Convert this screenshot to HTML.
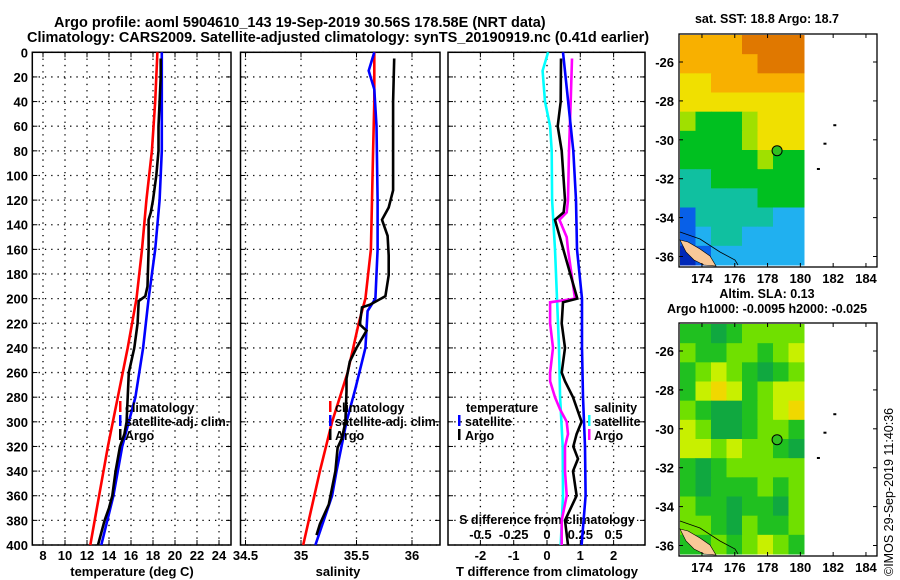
<!DOCTYPE html>
<html><head><meta charset="utf-8">
<style>
html,body{margin:0;padding:0;background:#fff;}
svg{display:block;font-family:"Liberation Sans",Arial,sans-serif;font-weight:bold;}
</style></head>
<body>
<svg id="chart" width="900" height="580" viewBox="0 0 900 580" xmlns="http://www.w3.org/2000/svg">
<rect width="900" height="580" fill="#fff"/>
<text x="54" y="27" font-size="14.5">Argo profile: aoml 5904610_143 19-Sep-2019 30.56S 178.58E (NRT data)</text>
<text x="27" y="42" font-size="14.5">Climatology: CARS2009. Satellite-adjusted climatology: synTS_20190919.nc (0.41d earlier)</text>
<g id="layer"></g>
</svg>
<script>
// ---- Temperature panel data ----
const tClimDepth = [0,40,80,120,160,200,240,280,320,360,400];
const tClim = [18.4,18.2,17.9,17.4,17.0,16.5,15.7,14.8,13.9,13.1,12.3];
const tSatDepth = [0,40,80,120,160,200,240,280,320,360,400];
const tSat = [18.8,18.8,18.8,18.6,18.2,17.6,17.1,16.4,15.2,14.4,13.3];
const tArgoDepth = [5,20,40,60,80,100,120,130,136,140,160,190,198,202,220,240,260,280,300,310,320,340,360,370,380,400];
const tArgo = [18.7,18.7,18.6,18.5,18.5,18.3,18.0,17.8,17.6,17.6,17.6,17.5,17.3,16.7,16.6,16.3,15.8,15.7,15.6,15.4,15.0,14.6,14.3,14.0,13.6,13.0];
const tTicks = [8,10,12,14,16,18,20,22,24];
// ---- Salinity panel data ----
const sClimDepth = [0,40,80,120,160,200,220,240,260,300,340,400];
const sClim = [35.66,35.66,35.65,35.64,35.63,35.58,35.52,35.47,35.42,35.28,35.17,35.02];
const sSatDepth = [0,15,30,60,120,160,200,210,240,273,300,340,360,400];
const sSat = [35.66,35.61,35.66,35.68,35.69,35.69,35.67,35.6,35.58,35.49,35.41,35.32,35.28,35.13];
const sArgoDepth = [5,40,80,112,126,136,149,165,181,198,205,207,221,226,240,251,265,275,300,313,321,340,367,383,392];
const sArgo = [35.84,35.83,35.83,35.83,35.79,35.73,35.78,35.79,35.79,35.76,35.62,35.55,35.53,35.59,35.50,35.44,35.41,35.41,35.40,35.37,35.33,35.31,35.25,35.17,35.14];
const sTicks = [34.5,35,35.5,36];
// ---- Difference panel data ----
const dTSatDepth = [0,80,120,160,200,240,280,320,360,400];
const dTSat = [0.48,0.79,0.87,0.9,1.05,1.05,1.08,1.14,1.16,1.04];
const dTArgoDepth = [5,40,60,80,120,130,136,160,200,203,220,240,260,267,280,300,310,320,330,340,360,380,400];
const dTArgo = [0.42,0.41,0.32,0.44,0.54,0.5,0.24,0.49,0.91,0.48,0.44,0.54,0.44,0.54,0.78,1.04,0.89,0.79,0.93,0.78,0.89,0.54,0.63];
const dSSatDepth = [0,15,40,60,80,120,160,200,240,280,320,360,400];
const dSSat = [0.008,-0.033,-0.015,0.023,0.035,0.038,0.06,0.075,0.09,0.098,0.118,0.12,0.103];
const dSArgoDepth = [5,40,80,120,130,136,150,160,200,203,220,240,260,267,280,290,300,310,320,340,360,380,400];
const dSArgo = [0.188,0.178,0.165,0.158,0.148,0.093,0.148,0.158,0.21,0.023,0.023,0.045,0.023,0.023,0.06,0.098,0.148,0.158,0.135,0.135,0.148,0.11,0.11];
const dTTicks = [-2,-1,0,1,2];
const dSTicks = [-0.5,-0.25,0,0.25,0.5];
const depthTicks = [0,20,40,60,80,100,120,140,160,180,200,220,240,260,280,300,320,340,360,380,400];
// ---- Map data ----
const sstGrid = [
 [7,7,7,7,8,8,8,8],[7,7,7,7,7,8,8,8],[6,6,7,7,7,7,7,7],[6,6,6,6,6,6,6,6],
 [5,4,4,4,5,6,6,6],[4,4,4,4,5,6,6,6],[4,4,4,4,4,5,4,4],[3,3,4,4,4,4,4,4],
 [3,3,3,3,3,4,4,4],[1,3,3,3,3,3,2,2],[1,2,3,3,2,2,2,2],[0,1,2,2,2,2,2,2]];
const slaGrid = [
 [2,2,1,2,3,3,3,3],[3,2,2,3,3,2,3,4],[2,3,4,3,2,1,2,3],[2,4,5,4,2,3,4,4],
 [3,2,1,1,2,3,4,5],[4,3,1,1,2,3,3,2],[4,4,3,4,3,3,2,1],[2,1,2,3,3,3,3,3],
 [2,1,2,2,2,3,2,3],[3,2,2,1,2,2,1,3],[3,3,2,1,3,2,2,3],[2,2,3,2,3,4,3,2]];
const lonTicks = [174,176,178,180,182,184];
const latTicks = [-26,-28,-30,-32,-34,-36];
const argoLon = 178.58, argoLat = -30.56;

const NS='http://www.w3.org/2000/svg';
const layer=document.getElementById('layer');
function mk(tag,attrs,parent){const e=document.createElementNS(NS,tag);for(const k in attrs)e.setAttribute(k,attrs[k]);(parent||layer).appendChild(e);return e;}
const top0=52.3, bot0=545;
const yD=d=>top0+d*(bot0-top0)/400;
const xT=v=>43+(v-8)*11;
const xS=v=>301+(v-35)*111;
const xDT=v=>547+v*33.3;
const xDS=v=>547+v*4*33.3;

function panel(name,x0,x1,vticks,xf){
  const g=mk('g',{});
  
  
  vticks.forEach(v=>{const x=xf(v);mk('line',{x1:x,x2:x,y1:top0,y2:bot0,stroke:'#000','stroke-width':1.3,'stroke-dasharray':'1.3 5'},g);
    mk('line',{x1:x,x2:x,y1:bot0,y2:bot0-5,stroke:'#000','stroke-width':1},g);mk('line',{x1:x,x2:x,y1:top0,y2:top0+5,stroke:'#000','stroke-width':1},g);});
  depthTicks.forEach(d=>{const y=yD(d);mk('line',{x1:x0,x2:x1,y1:y,y2:y,stroke:'#000','stroke-width':1.3,'stroke-dasharray':'1.3 5'},g);
    mk('line',{x1:x0,x2:x0+5,y1:y,y2:y,stroke:'#000'},g);mk('line',{x1:x1-5,x2:x1,y1:y,y2:y,stroke:'#000'},g);});
  mk('rect',{x:x0,y:top0,width:x1-x0,height:bot0-top0,fill:'none',stroke:'#000','stroke-width':1.5},g);
  return g;
}
function line(name,depths,vals,xf,color,g){
  const pts=depths.map((d,i)=>xf(vals[i]).toFixed(1)+','+yD(d).toFixed(1)).join(' ');
  const p=mk('polyline',{points:pts,fill:'none',stroke:color,'stroke-width':2.6},g);
  
  
}
function txt(name,x,y,s,size,anchor,g,extra){
  const t=mk('text',Object.assign({x:x,y:y,'font-size':size||13,'text-anchor':anchor||'start'},extra||{}),g);
  t.textContent=s;
  
  
  return t;
}
// Panel 1
const p1=panel('temperature-panel',32.3,231,tTicks,xT);
depthTicks.forEach(d=>txt('depth-tick-label',28,yD(d)+5,String(d),13,'end',p1));
tTicks.forEach(v=>txt('temp-tick-label',xT(v),560,String(v),13,'middle',p1));
txt('x-axis-title-temperature',132,576,'temperature (deg C)',13,'middle',p1);
line('temp-climatology-line',tClimDepth,tClim,xT,'#f00',p1);
line('temp-satellite-line',tSatDepth,tSat,xT,'#00f',p1);
line('temp-argo-line',tArgoDepth,tArgo,xT,'#000',p1);
// Panel 2
const p2=panel('salinity-panel',240.5,440,sTicks,xS);
sTicks.forEach(v=>txt('sal-tick-label',xS(v),560,String(v),13,'middle',p2));
txt('x-axis-title-salinity',338,576,'salinity',13,'middle',p2);
line('sal-climatology-line',sClimDepth,sClim,xS,'#f00',p2);
line('sal-satellite-line',sSatDepth,sSat,xS,'#00f',p2);
line('sal-argo-line',sArgoDepth,sArgo,xS,'#000',p2);
// legends panel 1 & 2
[[p1,119,125],[p2,329,335]].forEach(([g,mx,tx])=>{
  [['climatology','#f00'],['satellite-adj. clim.','#00f'],['Argo','#000']].forEach((e,i)=>{
    const y=412+i*14;
    mk('rect',{x:mx,y:y-11,width:2.5,height:11,fill:e[1]},g);
    txt('legend-entry',tx,y,e[0],12.5,'start',g);
  });
});
// Panel 3
const p3=panel('difference-panel',448,645,dTTicks,xDT);
dTTicks.forEach(v=>txt('dT-tick-label',xDT(v),560,String(v),13,'middle',p3));
dSTicks.forEach(v=>txt('dS-tick-label',xDS(v),539,String(v),13,'middle',p3));
txt('dS-axis-title',547,524,'S difference from climatology',12.5,'middle',p3);
txt('x-axis-title-diff',547,576,'T difference from climatology',13,'middle',p3);
line('dS-satellite-line',dSSatDepth,dSSat,xDS,'#0ff',p3);
line('dS-argo-line',dSArgoDepth,dSArgo,xDS,'#f0f',p3);
line('dT-argo-line',dTArgoDepth,dTArgo,xDT,'#000',p3);
line('dT-satellite-line',dTSatDepth,dTSat,xDT,'#00f',p3);
txt('legend-temperature-header',466,412,'temperature',12.5,'start',p3);
txt('legend-salinity-header',594,412,'salinity',12.5,'start',p3);
[['satellite','#00f',458,465],['Argo','#000',458,465],['satellite','#0ff',588,594],['Argo','#f0f',588,594]].forEach((e,i)=>{
  const y=426+(i%2)*14;
  mk('rect',{x:e[2],y:y-11,width:2.5,height:11,fill:e[1]},p3);
  txt('legend-entry',e[3],y,e[0],12.5,'start',p3);
});
// Maps
const sstColors=['#0028b8','#0860e8','#20b0f0','#10c0a0','#00c020','#a0e000','#f0e000','#f8b000','#e07800'];
const slaColors=['#10a040','#10a840','#20c020','#70e000','#c8f000','#f0d800'];
function map(name,fy,grid,colors,title1,title2){
  const g=mk('g',{});
  
  
  const fx0=679,fx1=877,fy1=fy+233;
  const latTop=-24.56, degY=19.45, lonL=172.6, degX=16.4;
  const X=l=>fx0+(l-lonL)*degX, Y=la=>fy+(latTop-la)*degY;
  mk('rect',{x:fx0,y:fy,width:fx1-fx0,height:fy1-fy,fill:'#fff'},g);
  const cx0=fx0+1,cx1=804,cy0=fy+1,cy1=fy1-2;
  const cw=(cx1-cx0)/grid[0].length, ch=(cy1-cy0)/grid.length;
  grid.forEach((row,r)=>row.forEach((v,c)=>{
    const cell=mk('rect',{x:cx0+c*cw,y:cy0+r*ch,width:cw+0.5,height:ch+0.5,fill:colors[v]},g);
    
    
  }));
  const land=mk('path',{d:`M${cx0} ${fy+206} L${cx0+8} ${fy+208} L${cx0+20} ${fy+215} L${cx0+30} ${fy+222} L${cx0+36} ${fy+232} L${cx0+24} ${cy1} L${cx0+14} ${fy+226} L${cx0+6} ${fy+218} Z`,fill:'#f8c898',stroke:'#000','stroke-width':0.6},g);
  
  
  mk('path',{d:`M${cx0} ${fy+198} L${cx0+20} ${fy+205} L${cx0+40} ${fy+218} L${cx0+55} ${fy+226} L${cx0+58} ${cy1}`,fill:'none',stroke:'#000','stroke-width':0.8},g);
  [[182.1,-29.25],[181.5,-30.2],[181.1,-31.5]].forEach(p=>mk('rect',{x:X(p[0])-1.5,y:Y(p[1])-1,width:3,height:2,fill:'#000'},g));
  const pt=mk('circle',{cx:X(argoLon),cy:Y(argoLat),r:5,fill:'#30c020',stroke:'#000','stroke-width':1},g);
  
  
  mk('rect',{x:fx0,y:fy,width:fx1-fx0,height:fy1-fy,fill:'none',stroke:'#000','stroke-width':1.3},g);
  lonTicks.forEach(l=>{const x=X(l);mk('line',{x1:x,x2:x,y1:fy1,y2:fy1-4,stroke:'#000'},g);mk('line',{x1:x,x2:x,y1:fy,y2:fy+4,stroke:'#000'},g);
    txt('map-lon-label',x,fy1+16,String(l),13,'middle',g);});
  latTicks.forEach(la=>{const y=Y(la);mk('line',{x1:fx0,x2:fx0+4,y1:y,y2:y,stroke:'#000'},g);mk('line',{x1:fx1-4,x2:fx1,y1:y,y2:y,stroke:'#000'},g);
    txt('map-lat-label',674,y+5,String(la),13,'end',g);});
  txt('map-title',767,fy-(title2?25:11),title1,12.5,'middle',g);
  if(title2) txt('map-subtitle',767,fy-10,title2,12.5,'middle',g);
}
map('sst-map',34,sstGrid,sstColors,'sat. SST: 18.8 Argo: 18.7');
map('sla-map',323,slaGrid,slaColors,'Altim. SLA: 0.13','Argo h1000: -0.0095 h2000: -0.025');
txt('imos-credit',0,0,'\u00A9IMOS 29-Sep-2019 11:40:36',12.5,'start',layer,{transform:'translate(893,576) rotate(-90)','font-weight':'normal'});
</script>
</body></html>
